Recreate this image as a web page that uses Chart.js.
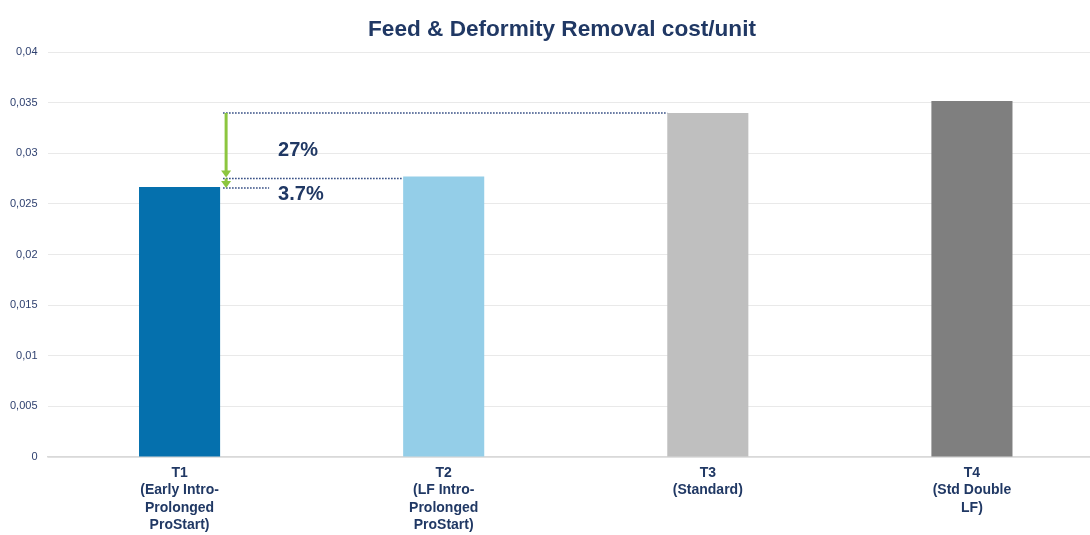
<!DOCTYPE html>
<html>
<head>
<meta charset="utf-8">
<script src="https://cdn.jsdelivr.net/npm/chart.js@4/dist/chart.umd.min.js"></script>
<style>
  html, body { margin: 0; padding: 0; background: #fff; overflow: hidden; }
  #wrap { position: absolute; left: 0; top: 0; width: 1104px; height: 535px; }
</style>
</head>
<body>
<div id="wrap"><canvas id="costChart"></canvas></div>
<script>
// DADOS
const categories = [
    ['T1', '(Early Intro-', 'Prolonged', 'ProStart)'],
    ['T2', '(LF Intro-', 'Prolonged', 'ProStart)'],
    ['T3', '(Standard)'],
    ['T4', '(Std Double', 'LF)']
];
const costValues = [0.02667, 0.0277, 0.03398, 0.03516];
const barColors = ['#0570AD', '#94CEE8', '#BFBFBF', '#7F7F7F'];
const yTickLabels = ['0', '0,005', '0,01', '0,015', '0,02', '0,025', '0,03', '0,035', '0,04'];
const gapLabels = ['27%', '3.7%'];
const chartTitle = 'Feed & Deformity Removal cost/unit';

const navy = '#203864';
const fontFamily = '"Liberation Sans", Arial, sans-serif';

// TÍTULO
const titlePlugin = {
    id: 'titleText',
    afterDraw(chart) {
        const ctx = chart.ctx;
        ctx.save();
        ctx.fillStyle = navy;
        ctx.font = 'bold 22.6px ' + fontFamily;
        ctx.textAlign = 'center';
        ctx.textBaseline = 'middle';
        ctx.fillText(chartTitle, chart.width / 2 + 10, 30);
        ctx.restore();
    }
};

// SETAS E LINHAS PONTILHADAS
const gapPlugin = {
    id: 'gapNotes',
    afterDatasetsDraw(chart) {
        const ctx = chart.ctx;
        const bars = chart.getDatasetMeta(0).data;
        const t1 = bars[0], t2 = bars[1], t3 = bars[2];
        const x0 = t1.x + t1.width / 2 + 3;
        const ax = t1.x + t1.width / 2 + 6;

        ctx.save();
        ctx.strokeStyle = '#253F7A';
        ctx.lineWidth = 1.4;
        ctx.setLineDash([1.5, 1.5]);
        const dotted = (xa, xb, y) => {
            ctx.beginPath();
            ctx.moveTo(xa, y);
            ctx.lineTo(xb, y);
            ctx.stroke();
        };
        dotted(x0, t3.x - t3.width / 2, t3.y);
        dotted(x0, t2.x - t2.width / 2, t2.y + 2);
        dotted(x0, x0 + 46, t1.y + 1);
        ctx.setLineDash([]);

        const arrow = (yTop, yBot) => {
            ctx.strokeStyle = '#8CC63F';
            ctx.fillStyle = '#8CC63F';
            ctx.lineWidth = 3;
            ctx.beginPath();
            ctx.moveTo(ax, yTop);
            ctx.lineTo(ax, yBot - 6);
            ctx.stroke();
            ctx.beginPath();
            ctx.moveTo(ax - 5, yBot - 7);
            ctx.lineTo(ax + 5, yBot - 7);
            ctx.lineTo(ax, yBot);
            ctx.closePath();
            ctx.fill();
        };
        arrow(t3.y, t2.y + 1);
        arrow(t2.y + 2, t1.y + 1);

        ctx.fillStyle = navy;
        ctx.font = 'bold 20px ' + fontFamily;
        ctx.textAlign = 'left';
        ctx.textBaseline = 'middle';
        ctx.fillText(gapLabels[0], ax + 52, (t3.y + t2.y) / 2 + 6);
        ctx.fillText(gapLabels[1], ax + 52, t1.y + 8);
        ctx.restore();
    }
};

// GRÁFICO
const costChart = new Chart(
    document.getElementById('costChart'),
    {
        type: 'bar',
        data: {
            labels: categories,
            datasets: [{
                data: costValues,
                backgroundColor: barColors,
                borderWidth: 0,
                categoryPercentage: 1,
                barPercentage: 0.307
            }]
        },
        options: {
            responsive: true,
            maintainAspectRatio: false,
            animation: false,
            layout: { padding: { left: 0, right: 0, top: 52, bottom: 0 } },
            plugins: {
                legend: { display: false },
                tooltip: { enabled: false },
                title: { display: false }
            },
            scales: {
                x: {
                    grid: { display: false, drawTicks: false },
                    border: { color: '#D9D9D9', width: 1.5 },
                    ticks: {
                        color: navy,
                        font: { family: fontFamily, size: 14, weight: 'bold', lineHeight: 1.25 },
                        padding: 7,
                        maxRotation: 0,
                        autoSkip: false
                    },
                    afterFit(scale) { scale.height = 78; }
                },
                y: {
                    min: 0,
                    max: 0.04,
                    grid: { color: '#E9E9E9', lineWidth: 1, drawTicks: false },
                    border: { display: false },
                    ticks: {
                        stepSize: 0.005,
                        color: '#2F4170',
                        padding: 10,
                        font: { family: fontFamily, size: 11 },
                        callback: (value, index) => yTickLabels[index]
                    },
                    afterFit(scale) { scale.width = 47.5; }
                }
            }
        },
        plugins: [gapPlugin, titlePlugin]
    }
);
</script>
</body>
</html>
